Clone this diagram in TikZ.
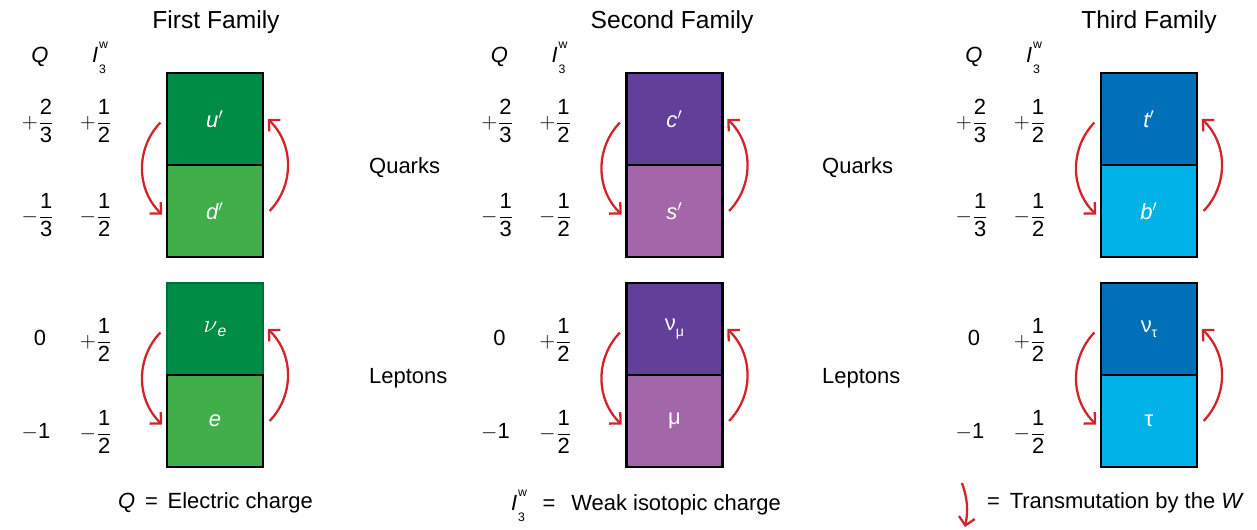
\documentclass[tikz,border=0pt]{standalone}
\usepackage{amsmath}
\usepackage{fontspec}
\setmainfont{Liberation Sans}
\usetikzlibrary{positioning,arrows.meta,calc}
\definecolor{greendark}{HTML}{008C45}
\definecolor{greenlight}{HTML}{40AE49}
\definecolor{greenedge}{HTML}{00703A}
\definecolor{purpledark}{HTML}{623F98}
\definecolor{purplelight}{HTML}{A366A8}
\definecolor{bluedark}{HTML}{0070B8}
\definecolor{bluelight}{HTML}{00B2E8}
\definecolor{transred}{HTML}{D2232A}
\newcommand{\frc}[3]{$#1\dfrac{\text{#2}}{\text{#3}}$}
\newcommand{\isow}{\textit{I}\kern0.5pt\rlap{\raisebox{0.62em}{\scriptsize w}}\raisebox{-0.5em}{\scriptsize 3}}
\newcommand{\nue}{{\fontsize{15}{15}\selectfont$\nu$}\raisebox{-0.2em}{\small\itshape e}}
\newcommand{\nusub}[1]{ν\raisebox{-0.25em}{\footnotesize #1}}

\begin{document}
\begin{tikzpicture}[x=0.02cm,y=-0.02cm,font=\fontsize{12.5}{15}\selectfont,
  cell/.style={draw=black,line width=1.5pt,minimum width=1.92cm,
    minimum height=1.84cm,inner sep=0pt,text=white,font=\fontsize{12.5}{15}\selectfont\itshape},
  trans/.style={transred,line width=1.3pt,-{Straight Barb[length=1.6mm,width=3.2mm]}}]
\useasboundingbox (0,0) rectangle (1257,529);

% three families
\foreach \fx/\tx/\dk/\lt/\edge/\qa/\qb/\la/\lb/\nm/\title in {
  215/216/greendark/greenlight/greenedge/u/d/{\upshape\nue}/e/1/First,
  674.5/672/purpledark/purplelight/black/c/s/{\upshape\nusub{μ}}/{\upshape μ}/2/Second,
  1149/1149/bluedark/bluelight/black/t/b/{\upshape\nusub{τ}}/{\upshape τ}/3/Third}{
  \node[font=\fontsize{14}{17}\selectfont] (title\nm) at (\tx,22) {\title\ Family};
  \node[cell,fill=\dk] (qa\nm) at (\fx,119) {\qa$'$};
  \node[cell,fill=\lt] (qb\nm) at (\fx,211) {\qb$'$};
  \node[cell,fill=\dk,draw=\edge] (la\nm) at (\fx,329) {\la};
  \node[cell,fill=\lt] (lb\nm) at (\fx,421) {\lb};
  % charges
  \node (Q\nm) at (\fx-175,57) {\textit{Q}};
  \node (I\nm) at (\fx-116,58) {\isow};
  \node (qaQ\nm) at (\fx-177,121) {\frc{+}{2}{3}};
  \node (qaI\nm) at (\fx-119,121) {\frc{+}{1}{2}};
  \node (qbQ\nm) at (\fx-177,215) {\frc{-}{1}{3}};
  \node (qbI\nm) at (\fx-119,215) {\frc{-}{1}{2}};
  \node (laQ\nm) at (\fx-175,338) {0};
  \node (laI\nm) at (\fx-119,340) {\frc{+}{1}{2}};
  \node (lbQ\nm) at (\fx-179,432) {$-$1};
  \node (lbI\nm) at (\fx-119,432) {\frc{-}{1}{2}};
  % transmutations
  \draw[trans] ([xshift=-3pt,yshift=-2pt]qa\nm.west) to[bend right=45] ([xshift=-2pt,yshift=-2pt]qb\nm.west);
  \draw[trans] ([xshift=3pt]qb\nm.east) to[bend right=45] ([xshift=2pt]qa\nm.east);
  \draw[trans] ([xshift=-3pt,yshift=-2pt]la\nm.west) to[bend right=45] ([xshift=-2pt,yshift=-2pt]lb\nm.west);
  \draw[trans] ([xshift=3pt]lb\nm.east) to[bend right=45] ([xshift=2pt]la\nm.east);
}

\foreach \lx/\nm in {363/1,816/2}{
  \node[anchor=west] (quarks\nm) at (\lx,168) {Quarks};
  \node[anchor=west] (leptons\nm) at (\lx,378) {Leptons};
}

% legend
\node[anchor=west] (legQ) at (112,503) {\textit{Q}\,\ =\ \,Electric charge};
\node[anchor=west] (legI) at (505,506) {\isow\hspace{10pt}=\ \ \,Weak isotopic charge};
\coordinate (lgtop) at (962,483);
\coordinate (lgbot) at (965,527);
\draw[trans] (lgtop) to[bend left=15] (lgbot);
\node[anchor=west] (legT) at (981,503) {=\ \,Transmutation by the \textit{W}};
\end{tikzpicture}
\end{document}
